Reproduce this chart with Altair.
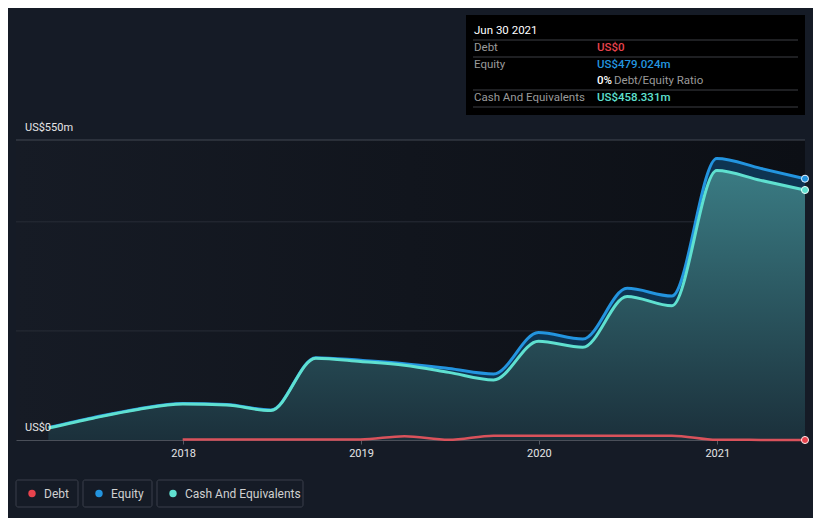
import altair as alt
import pandas as pd

FONT = "Roboto"

dates = ["2017-03-31", "2017-06-30", "2017-09-30", "2017-12-31", "2018-03-31",
         "2018-06-30", "2018-09-30", "2018-12-31", "2019-03-31", "2019-06-30",
         "2019-09-30", "2019-12-31", "2020-03-31", "2020-06-30", "2020-09-30",
         "2020-12-31", "2021-03-31", "2021-06-30"]
equity = [23, 41, 57, 67, 65, 55, 151, 146, 140, 131, 121, 197, 185, 278, 264, 516, 498, 479.024]
cash = [22, 40, 56, 66, 64, 54, 150, 144, 137, 124, 110, 181, 170, 263, 246, 494, 476, 458.331]

debt_dates = ["2017-12-31", "2018-06-30", "2018-12-31", "2019-03-31", "2019-06-30",
              "2019-09-30", "2019-12-31", "2020-03-31", "2020-06-30", "2020-09-30",
              "2020-12-31", "2021-03-31", "2021-06-30"]
debt = [1, 1, 1, 7, 0.5, 8, 8, 8, 8, 8, 0.5, 0.2, 0]

df = pd.DataFrame({"date": dates, "equity": equity, "cash": cash})
ddf = pd.DataFrame({"date": debt_dates, "debt": debt})
last = df.iloc[[-1]]
dlast = ddf.iloc[[-1]]
grid_vals = pd.DataFrame({"v": [200, 400]})
top_val = pd.DataFrame({"v": [550]})
ylab = pd.DataFrame({"v": [550, 0], "t": ["US$550m", "US$0"]})
one = pd.DataFrame({"a": [0]})

W, H = 789, 300
xscale = alt.Scale(type="utc", domain=[alt.DateTime(year=2017, month=1, date=23, utc=True),
                                       alt.DateTime(year=2021, month=6, date=30, utc=True)])
yscale = alt.Scale(domain=[0, 550])
xaxis = alt.Axis(values=[alt.DateTime(year=y, month=1, date=1, utc=True) for y in [2018, 2019, 2020, 2021]],
                 format="%Y", title=None, grid=False, labelColor="#e6e6e6", labelFontSize=11,
                 labelFont=FONT, tickColor="#555a64", tickSize=4, domainColor="#4a4f59",
                 labelPadding=3)

X = alt.X("date:T", scale=xscale, axis=xaxis)

bg = alt.Chart(one).mark_rect(fill=alt.Gradient(
    gradient="linear", x1=0, x2=1, y1=0, y2=0,
    stops=[alt.GradientStop(color="#161b25", offset=0),
           alt.GradientStop(color="#0c0f15", offset=1)])).encode(
    x=alt.value(0), x2=alt.value(W), y=alt.value(0), y2=alt.value(H))

grid = alt.Chart(grid_vals).mark_rule(color="#282d37", strokeWidth=1).encode(
    y=alt.Y("v:Q", scale=yscale, axis=None), x=alt.value(0), x2=alt.value(W))
topline = alt.Chart(top_val).mark_rule(color="#434852", strokeWidth=1).encode(
    y=alt.Y("v:Q", scale=yscale, axis=None), x=alt.value(0), x2=alt.value(W))

eq_area = alt.Chart(df).mark_area(interpolate="monotone", color="#0e3452").encode(
    x=X, y=alt.Y("equity:Q", scale=yscale, axis=None))
cash_area = alt.Chart(df).mark_area(interpolate="monotone", fill=alt.Gradient(
    gradient="linear", x1=0, x2=0, y1=0, y2=1,
    stops=[alt.GradientStop(color="#3a7b83", offset=0),
           alt.GradientStop(color="#1b303b", offset=1)])).encode(
    x=X, y=alt.Y("cash:Q", scale=yscale, axis=None))

debt_line = alt.Chart(ddf).mark_line(interpolate="monotone", color="#d9525b", strokeWidth=2.5).encode(
    x=X, y=alt.Y("debt:Q", scale=yscale, axis=None))
eq_line = alt.Chart(df).mark_line(interpolate="monotone", color="#2394df", strokeWidth=3).encode(
    x=X, y=alt.Y("equity:Q", scale=yscale, axis=None))
cash_line = alt.Chart(df).mark_line(interpolate="monotone", color="#5fe0d0", strokeWidth=3).encode(
    x=X, y=alt.Y("cash:Q", scale=yscale, axis=None))

eq_pt = alt.Chart(last).mark_point(filled=True, size=50, color="#2394df", stroke="#e8f4ff",
                                    strokeWidth=1, opacity=1).encode(
    x=X, y=alt.Y("equity:Q", scale=yscale, axis=None))
cash_pt = alt.Chart(last).mark_point(filled=True, size=50, color="#5fe0d0", stroke="#eafffb",
                                      strokeWidth=1, opacity=1).encode(
    x=X, y=alt.Y("cash:Q", scale=yscale, axis=None))
debt_pt = alt.Chart(dlast).mark_point(filled=True, size=50, color="#e8434d", stroke="#ffecec",
                                       strokeWidth=1, opacity=1).encode(
    x=X, y=alt.Y("debt:Q", scale=yscale, axis=None))

ylabels = alt.Chart(ylab).mark_text(align="left", baseline="middle", dx=0, dy=-12, color="#e6e6e6",
                                    fontSize=11, font=FONT).encode(
    y=alt.Y("v:Q", scale=yscale, axis=None), x=alt.value(9), text="t:N")


def label(text, x, y, color, size=11, weight="normal"):
    return alt.Chart(one).mark_text(text=text, align="left", baseline="middle", color=color,
                                    fontSize=size, fontWeight=weight, font=FONT).encode(
        x=alt.value(x), y=alt.value(y))


def sep(y):
    return alt.Chart(one).mark_rule(color="#3c3f45", strokeWidth=1).encode(
        x=alt.value(457), x2=alt.value(782), y=alt.value(y))


tip_box = alt.Chart(one).mark_rect(fill="#000000").encode(
    x=alt.value(450), x2=alt.value(789), y=alt.value(-125), y2=alt.value(-25))

tip = [tip_box, sep(-100), sep(-83), sep(-50), sep(-33),
       label("Jun 30 2021", 458, -109, "#ffffff", 11.5),
       label("Debt", 458, -92, "#9a9a9a", 11.5),
       label("US$0", 581, -92, "#e8434d", 11.5, 500),
       label("Equity", 458, -75, "#9a9a9a", 11.5),
       label("US$479.024m", 581, -75, "#2394df", 11.5, 500),
       label("0%", 581, -59, "#ffffff", 11.5, 500),
       label("Debt/Equity Ratio", 598, -59, "#9a9a9a", 11.5),
       label("Cash And Equivalents", 458, -42, "#9a9a9a", 11.5),
       label("US$458.331m", 581, -42, "#5fe0d0", 11.5, 500)]


def legend_item(x0, x1, name, color):
    box = alt.Chart(one).mark_rect(fill="#151b26", stroke="#3a3f4a", strokeWidth=1,
                                   cornerRadius=2).encode(
        x=alt.value(x0), x2=alt.value(x1), y=alt.value(340), y2=alt.value(367))
    dot = alt.Chart(one).mark_point(filled=True, size=55, color=color, opacity=1, shape="circle").encode(
        x=alt.value(x0 + 16), y=alt.value(353.5))
    txt = label(name, x0 + 28, 353.5, "#d0d0d0", 12)
    return [box, dot, txt]


legend = (legend_item(0, 62, "Debt", "#e8434d") + legend_item(67, 136, "Equity", "#2394df")
          + legend_item(141, 287, "Cash And Equivalents", "#5fe0d0"))

chart = alt.layer(bg, grid, topline, eq_area, cash_area, debt_line, eq_line, cash_line,
                  eq_pt, cash_pt, debt_pt, ylabels, *tip, *legend).properties(
    width=W, height=H,
    autosize=alt.AutoSizeParams(type="none"),
    padding={"left": 8, "top": 132, "right": 8, "bottom": 78},
    background="#151b26",
).configure_view(stroke=None)

chart.save("out.html", embed_options={"renderer": "svg", "actions": False})
